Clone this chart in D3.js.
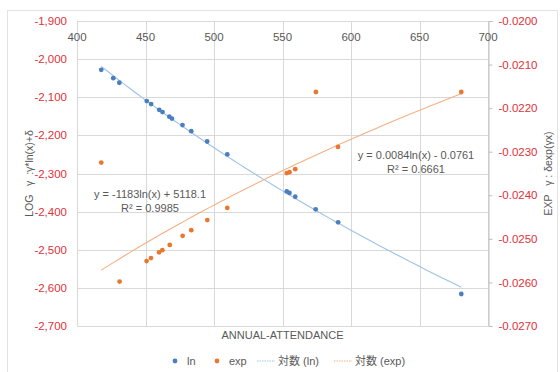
<!DOCTYPE html>
<html>
<head>
<meta charset="utf-8">
<script src="https://cdn.jsdelivr.net/npm/d3@7"></script>
<style>
  html, body { margin: 0; padding: 0; background: #ffffff; }
  svg { display: block; }
</style>
</head>
<body>
<script>
// ln series (left axis)
const lnX = [417.7, 426.5, 430.9, 450.9, 454.1, 460.0, 462.4, 467.4, 469.3, 477.0, 483.4, 495.0, 509.7,
  553.1, 555.1, 559.3, 574.2, 590.6, 680.5];
const lnY = [-2028, -2050, -2062, -2110, -2118, -2133, -2139, -2151, -2156, -2173, -2189, -2216, -2250,
  -2347, -2351, -2361, -2394, -2428, -2616];

// exp series (right axis)
const expX = [417.7, 431.1, 450.8, 454.0, 459.9, 462.3, 467.7, 477.1, 483.4, 495.1, 509.7,
  553.1, 555.1, 559.3, 574.4, 590.5, 680.5];
const expY = [-0.02325, -0.02598, -0.02551, -0.02544, -0.02531, -0.02526, -0.02514, -0.02493, -0.02480,
  -0.02457, -0.02429, -0.02349, -0.02347, -0.02340, -0.02163, -0.02289, -0.02163];

const xTicks = [400, 450, 500, 550, 600, 650, 700];
const leftTicks = [-1900, -2000, -2100, -2200, -2300, -2400, -2500, -2600, -2700];
const rightTicks = [-0.020, -0.021, -0.022, -0.023, -0.024, -0.025, -0.026, -0.027];

const lnEquation = ["y = -1183ln(x) + 5118.1", "R² = 0.9985"];
const expEquation = ["y = 0.0084ln(x) - 0.0761", "R² = 0.6661"];
const legendItems = [
  { label: "ln", kind: "dot", color: "#4a7ebf" },
  { label: "exp", kind: "dot", color: "#e9782f" },
  { label: "対数 (ln)", kind: "line", color: "#9dc3e6" },
  { label: "対数 (exp)", kind: "line", color: "#f4b183" }
];

const width = 560;
const height = 372;
const plot = { left: 77, right: 488, top: 21, bottom: 326 };
const font = "'Liberation Sans', Arial, sans-serif";
const tickRed = "#e0313a";
const textGray = "#595959";
const gridGray = "#d9d9d9";

const fmt = d3.formatLocale({ decimal: ".", thousands: ",", grouping: [3], currency: ["", ""], minus: "-" });

const x = d3.scaleLinear().domain([400, 700]).range([plot.left, plot.right]);
const yL = d3.scaleLinear().domain([-2700, -1900]).range([plot.bottom, plot.top]);
const yR = d3.scaleLinear().domain([-0.027, -0.020]).range([plot.bottom, plot.top]);

const svg = d3.select("body")
  .append("svg")
  .attr("width", width)
  .attr("height", height)
  .attr("viewBox", `0 0 ${width} ${height}`);

// chart border
svg.append("rect")
  .attr("x", 7.5).attr("y", 10.5)
  .attr("width", 550).attr("height", 370)
  .attr("fill", "#ffffff")
  .attr("stroke", "#e3e3e3");

// grid
svg.append("g")
  .selectAll("line")
  .data(leftTicks)
  .join("line")
  .attr("x1", plot.left).attr("x2", plot.right)
  .attr("y1", (d) => Math.round(yL(d)) + 0.5)
  .attr("y2", (d) => Math.round(yL(d)) + 0.5)
  .attr("stroke", gridGray);

svg.append("g")
  .selectAll("line")
  .data(xTicks)
  .join("line")
  .attr("x1", (d) => Math.round(x(d)) + 0.5)
  .attr("x2", (d) => Math.round(x(d)) + 0.5)
  .attr("y1", plot.top).attr("y2", plot.bottom)
  .attr("stroke", gridGray);

// right axis
const rightAxis = svg.append("g")
  .attr("transform", `translate(${Math.round(plot.right) + 0.5},0)`)
  .call(d3.axisRight(yR).tickValues(rightTicks).tickSize(4).tickPadding(6).tickFormat(fmt.format(".4f")));
rightAxis.select(".domain").attr("stroke", "#bfbfbf");
rightAxis.selectAll(".tick line").attr("stroke", "#bfbfbf");
rightAxis.selectAll("text")
  .attr("fill", tickRed)
  .attr("font-family", font)
  .attr("font-size", 11.5);

// left axis labels
svg.append("g")
  .selectAll("text")
  .data(leftTicks)
  .join("text")
  .attr("x", 67)
  .attr("y", (d) => yL(d))
  .attr("dy", "0.35em")
  .attr("text-anchor", "end")
  .attr("fill", tickRed)
  .attr("font-family", font)
  .attr("font-size", 11.5)
  .text((d) => fmt.format(",")(d));

// top x labels
svg.append("g")
  .selectAll("text")
  .data(xTicks)
  .join("text")
  .attr("x", (d) => x(d))
  .attr("y", 41)
  .attr("text-anchor", "middle")
  .attr("fill", textGray)
  .attr("font-family", font)
  .attr("font-size", 11.5)
  .text((d) => d);

// log trend fit
function logFit(xs, ys) {
  const lx = xs.map(Math.log);
  const mx = d3.mean(lx);
  const my = d3.mean(ys);
  const a = d3.sum(lx, (v, i) => (v - mx) * (ys[i] - my)) / d3.sum(lx, (v) => (v - mx) ** 2);
  return { a, b: my - a * mx };
}

function trendPoints(xs, ys) {
  const fit = logFit(xs, ys);
  const [lo, hi] = d3.extent(xs);
  return d3.range(0, 61).map((i) => {
    const xv = lo + (hi - lo) * i / 60;
    return [xv, fit.a * Math.log(xv) + fit.b];
  });
}

svg.append("path")
  .datum(trendPoints(lnX, lnY))
  .attr("fill", "none")
  .attr("stroke", "#9dc3e6")
  .attr("stroke-width", 1.1)
  .attr("d", d3.line().x((d) => x(d[0])).y((d) => yL(d[1])));

svg.append("path")
  .datum(trendPoints(expX, expY))
  .attr("fill", "none")
  .attr("stroke", "#f4b183")
  .attr("stroke-width", 1.1)
  .attr("d", d3.line().x((d) => x(d[0])).y((d) => yR(d[1])));

// points
svg.append("g")
  .selectAll("circle")
  .data(lnX.map((v, i) => [v, lnY[i]]))
  .join("circle")
  .attr("cx", (d) => x(d[0]))
  .attr("cy", (d) => yL(d[1]))
  .attr("r", 2.4)
  .attr("fill", legendItems[0].color);

svg.append("g")
  .selectAll("circle")
  .data(expX.map((v, i) => [v, expY[i]]))
  .join("circle")
  .attr("cx", (d) => x(d[0]))
  .attr("cy", (d) => yR(d[1]))
  .attr("r", 2.4)
  .attr("fill", legendItems[1].color);

// equations
svg.append("g")
  .selectAll("text")
  .data(lnEquation)
  .join("text")
  .attr("x", 150)
  .attr("y", (d, i) => 198 + i * 14)
  .attr("text-anchor", "middle")
  .attr("fill", textGray)
  .attr("font-family", font)
  .attr("font-size", 11)
  .text((d) => d);

svg.append("g")
  .selectAll("text")
  .data(expEquation)
  .join("text")
  .attr("x", 416)
  .attr("y", (d, i) => 159 + i * 14)
  .attr("text-anchor", "middle")
  .attr("fill", textGray)
  .attr("font-family", font)
  .attr("font-size", 11)
  .text((d) => d);

// axis titles
svg.append("text")
  .attr("transform", `translate(33,${(plot.top + plot.bottom) / 2}) rotate(-90)`)
  .attr("text-anchor", "middle")
  .attr("fill", textGray)
  .attr("font-family", font)
  .attr("font-size", 10.5)
  .attr("xml:space", "preserve")
  .text("LOG   γ  :γ*ln(x)+δ");

svg.append("text")
  .attr("transform", `translate(552,${(plot.top + plot.bottom) / 2}) rotate(-90)`)
  .attr("text-anchor", "middle")
  .attr("fill", textGray)
  .attr("font-family", font)
  .attr("font-size", 10.5)
  .attr("xml:space", "preserve")
  .text("EXP   γ : δexp(γx)");

svg.append("text")
  .attr("x", (plot.left + plot.right) / 2)
  .attr("y", 339)
  .attr("text-anchor", "middle")
  .attr("fill", textGray)
  .attr("font-family", font)
  .attr("font-size", 11)
  .text("ANNUAL-ATTENDANCE");

// legend
const legendX = [175, 217, 257, 334];
const legend = svg.append("g")
  .selectAll("g")
  .data(legendItems)
  .join("g")
  .attr("transform", (d, i) => `translate(${legendX[i]},361)`);

legend.filter((d) => d.kind === "dot")
  .append("circle")
  .attr("r", 2.4)
  .attr("fill", (d) => d.color);

legend.filter((d) => d.kind === "line")
  .append("line")
  .attr("x1", 0).attr("x2", 18)
  .attr("stroke", (d) => d.color)
  .attr("stroke-width", 1.1)
  .attr("stroke-dasharray", "1.5 1");

legend.append("text")
  .attr("x", (d) => (d.kind === "dot" ? 12 : 21))
  .attr("dy", "0.35em")
  .attr("fill", textGray)
  .attr("font-family", (d) => (d.kind === "dot" ? font : `${font.replace(", Arial, sans-serif", "")}, 'Noto Sans CJK JP', sans-serif`))
  .attr("font-size", 11)
  .text((d) => d.label);
</script>
</body>
</html>
